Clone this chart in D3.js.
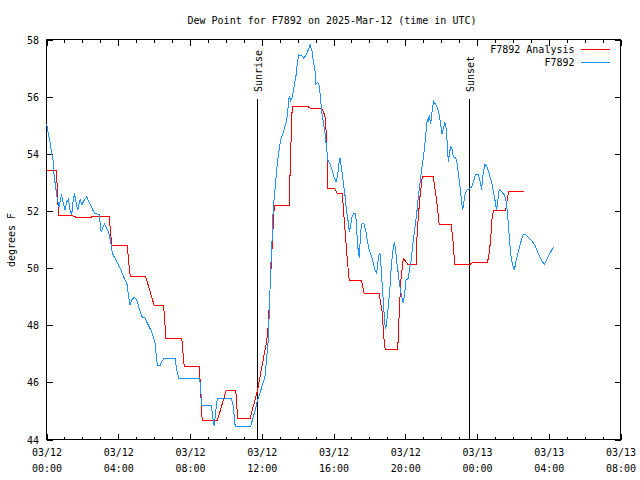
<!DOCTYPE html>
<html>
<head>
<meta charset="utf-8">
<script src="https://cdn.jsdelivr.net/npm/d3@7"></script>
<style>
  html, body { margin: 0; padding: 0; background: #fff; }
  svg { display: block; }
  text { font-family: "DejaVu Sans Mono", monospace; font-size: 10px; fill: #000; }
</style>
</head>
<body>
<script>
// ---- Data (hours since 2025-03-12 00:00 UTC, dew point in °F) ----
const chartTitle = "Dew Point for F7892 on 2025-Mar-12 (time in UTC)";
const yLabel = "degrees F";
const seriesNames = ["F7892 Analysis", "F7892"];
const seriesColors = ["#ff0000", "#1e90ff"];

const xTickHours = [0, 4, 8, 12, 16, 20, 24, 28, 32];
const xTickDates = ["03/12", "03/12", "03/12", "03/12", "03/12", "03/12", "03/13", "03/13", "03/13"];
const xTickTimes = ["00:00", "04:00", "08:00", "12:00", "16:00", "20:00", "00:00", "04:00", "08:00"];
const yTicks = [44, 46, 48, 50, 52, 54, 56, 58];

const sunEvents = [{label: "Sunrise", hour: 11.76}, {label: "Sunset", hour: 23.58}];

const analysisHours = [0.0,0.57,0.60,0.68,1.40,1.68,2.48,2.56,3.50,3.56,3.65,4.50,4.58,4.67,5.52,6.01,6.53,6.66,7.54,7.68,8.52,8.60,8.68,9.52,10.02,10.55,10.66,11.34,11.75,12.27,12.36,12.50,12.61,12.70,13.53,13.61,13.70,14.54,14.69,15.34,15.52,15.62,15.69,16.08,16.21,16.49,16.58,16.77,16.88,17.57,17.71,18.55,18.72,18.80,18.88,19.58,19.67,19.76,19.89,20.17,20.60,20.67,20.82,20.95,21.56,21.75,21.89,22.56,22.68,22.75,23.61,23.76,24.57,24.65,24.76,24.85,24.93,25.60,25.68,25.76,26.60];
const analysisValues = [53.41,53.41,52.61,51.85,51.85,51.77,51.77,51.81,51.81,51.31,50.80,50.80,50.24,49.72,49.72,48.68,48.68,47.55,47.55,46.54,46.54,45.63,44.65,44.65,45.73,45.73,44.72,44.72,45.68,47.43,47.95,49.76,51.15,52.20,52.20,54.01,55.67,55.67,55.60,55.60,55.34,54.53,52.78,52.78,52.61,52.61,51.85,50.28,49.55,49.55,49.11,49.11,48.42,47.61,47.14,47.14,48.54,49.58,50.34,50.11,50.11,51.33,52.49,53.22,53.22,52.38,51.53,51.53,50.87,50.13,50.13,50.20,50.20,50.38,50.98,51.85,52.02,52.02,52.38,52.68,52.68];

const obsHours = [0.01,0.10,0.20,0.29,0.38,0.43,0.51,0.60,0.70,0.79,0.85,0.94,1.03,1.13,1.22,1.31,1.40,1.49,1.57,1.64,1.74,1.87,1.98,2.07,2.24,2.42,2.58,2.70,2.93,2.98,3.05,3.13,3.22,3.36,3.48,3.58,3.67,3.82,3.97,4.19,4.38,4.50,4.56,4.65,4.75,4.89,5.03,5.16,5.31,5.49,5.67,5.86,6.01,6.05,6.14,6.20,6.33,6.42,6.57,7.16,7.26,7.37,8.52,8.56,8.61,8.67,9.19,9.26,9.35,9.41,9.52,10.32,10.41,10.52,11.38,11.49,11.62,11.75,11.96,12.18,12.27,12.36,12.42,12.50,12.57,12.64,12.74,12.79,12.85,12.94,13.03,13.14,13.26,13.39,13.48,13.53,13.61,13.70,13.80,13.91,13.98,14.06,14.23,14.35,14.50,14.62,14.70,14.80,14.87,14.97,15.02,15.12,15.21,15.28,15.34,15.43,15.52,15.62,15.69,15.80,15.90,16.03,16.14,16.23,16.30,16.36,16.45,16.54,16.64,16.73,16.82,16.88,16.96,17.03,17.14,17.24,17.29,17.38,17.44,17.51,17.59,17.71,17.81,17.88,17.99,18.13,18.22,18.31,18.41,18.46,18.54,18.59,18.65,18.72,18.80,18.85,18.91,18.98,19.05,19.15,19.22,19.30,19.39,19.47,19.52,19.61,19.70,19.80,19.89,19.97,20.04,20.17,20.26,20.33,20.43,20.52,20.64,20.73,20.82,20.91,21.00,21.08,21.15,21.23,21.28,21.34,21.42,21.49,21.58,21.67,21.78,21.88,21.97,22.05,22.12,22.21,22.27,22.34,22.40,22.45,22.53,22.60,22.68,22.79,22.87,22.94,23.01,23.09,23.20,23.33,23.42,23.51,23.70,23.83,23.92,24.07,24.16,24.26,24.31,24.39,24.44,24.54,24.63,24.72,24.82,24.91,25.00,25.09,25.15,25.24,25.37,25.50,25.60,25.66,25.71,25.80,25.87,25.96,26.08,26.17,26.30,26.45,26.58,26.71,26.86,27.05,27.23,27.41,27.60,27.75,27.92,28.10,28.25];
const obsValues = [55.03,54.70,54.41,54.01,53.71,53.19,52.84,52.44,52.14,52.44,52.55,52.26,52.03,52.32,52.41,52.03,51.85,52.38,52.61,52.32,52.03,52.40,52.20,52.35,52.49,52.26,52.03,51.91,51.88,51.62,51.25,51.39,51.54,51.39,51.21,50.92,50.52,50.34,50.17,49.87,49.58,49.41,49.06,48.71,48.89,48.98,48.89,48.60,48.30,48.25,48.01,47.78,47.49,47.38,46.79,46.58,46.58,46.73,46.85,46.85,46.44,46.15,46.15,46.00,45.63,45.19,45.19,44.81,44.46,44.84,45.42,45.42,45.16,44.46,44.46,44.70,44.99,45.34,45.75,46.21,46.85,47.43,48.48,49.99,50.92,52.09,52.78,53.13,53.54,54.01,54.41,54.65,54.88,55.17,55.69,56.02,55.87,55.98,56.33,56.74,57.15,57.46,57.44,57.34,57.50,57.67,57.81,57.61,57.26,56.91,56.45,56.51,56.39,55.93,55.46,55.11,54.76,54.18,53.77,53.66,53.48,53.19,53.02,53.25,53.66,53.85,53.48,53.02,52.55,51.97,51.62,51.27,51.50,51.79,51.91,51.91,51.33,50.57,50.34,51.27,51.56,51.54,51.27,50.98,50.63,50.40,50.17,49.93,49.82,50.17,50.46,50.52,50.05,49.35,48.65,48.07,47.86,48.19,48.65,49.35,50.05,50.57,50.92,50.63,50.22,49.82,49.35,49.00,48.77,49.12,49.58,49.64,50.05,50.28,50.87,51.33,51.91,52.49,52.96,53.42,53.83,54.24,54.70,55.23,55.11,55.34,55.05,55.46,55.84,55.75,55.63,55.40,55.05,54.70,54.88,55.11,54.93,54.41,53.71,53.95,54.24,54.18,53.89,53.87,53.77,53.42,53.07,52.61,52.03,52.55,52.73,52.75,52.84,53.07,53.28,53.28,53.07,52.75,53.19,53.45,53.63,53.56,53.42,53.19,53.02,52.67,52.38,52.03,52.32,52.75,52.67,52.58,52.44,52.14,51.85,51.10,50.52,50.17,49.93,50.22,50.57,50.92,51.18,51.18,51.07,50.96,50.81,50.52,50.28,50.13,50.34,50.55,50.73];

// ---- Layout ----
const W = 640, H = 480;
const plotLeft = 46.5, plotRight = 620.5, plotTop = 39.5, plotBottom = 439.5;

const svg = d3.select("body").append("svg").attr("width", W).attr("height", H);
svg.append("rect").attr("width", W).attr("height", H).attr("fill", "#fff");

const x = d3.scaleLinear().domain([0, 32]).range([plotLeft, plotRight]);
const y = d3.scaleLinear().domain([44, 58]).range([plotBottom, plotTop]);

// Title
svg.append("text").attr("x", 332).attr("y", 23.5).attr("text-anchor", "middle").text(chartTitle);

// Y label
svg.append("text").attr("transform", "translate(14.5,240) rotate(-90)")
  .attr("text-anchor", "middle").text(yLabel);

// Axes (ticks inward)
const minorHours = d3.range(0, 33, 1).filter(h => h % 4 !== 0);
function styleAxis(g) {
  g.select(".domain").remove();
  g.selectAll("line").attr("stroke", "#000").attr("shape-rendering", "crispEdges");
}
svg.append("g").attr("transform", `translate(0,${plotBottom})`)
  .call(d3.axisBottom(x).tickValues(minorHours).tickSize(-3).tickFormat(""))
  .call(styleAxis);
svg.append("g").attr("transform", `translate(0,${plotTop})`)
  .call(d3.axisTop(x).tickValues(minorHours).tickSize(-3).tickFormat(""))
  .call(styleAxis);
const gxb = svg.append("g").attr("transform", `translate(0,${plotBottom})`)
  .call(d3.axisBottom(x).tickValues(xTickHours).tickSize(-6).tickFormat(""))
  .call(styleAxis);
svg.append("g").attr("transform", `translate(0,${plotTop})`)
  .call(d3.axisTop(x).tickValues(xTickHours).tickSize(-6).tickFormat(""))
  .call(styleAxis);
gxb.selectAll(".tick text").remove();
gxb.selectAll(".tick").each(function(d, i) {
  const t = d3.select(this).append("text").attr("text-anchor", "middle").attr("fill", "#000")
    .attr("font-family", "DejaVu Sans Mono").attr("font-size", 10);
  t.append("tspan").attr("x", 0).attr("y", 16.8).text(xTickDates[i]);
  t.append("tspan").attr("x", 0).attr("y", 32.5).text(xTickTimes[i]);
});

const gyl = svg.append("g").attr("transform", `translate(${plotLeft},0)`)
  .call(d3.axisLeft(y).tickValues(yTicks).tickSize(-6).tickPadding(7).tickFormat(d3.format("d")))
  .call(styleAxis);
gyl.selectAll("text").attr("font-family", "DejaVu Sans Mono").attr("font-size", 10)
  .attr("fill", "#000").attr("dy", "0.36em").attr("x", -7.5);
svg.append("g").attr("transform", `translate(${plotRight},0)`)
  .call(d3.axisRight(y).tickValues(yTicks).tickSize(-6).tickFormat(""))
  .call(styleAxis);

// Frame
svg.append("rect").attr("x", plotLeft).attr("y", plotTop)
  .attr("width", plotRight - plotLeft).attr("height", plotBottom - plotTop)
  .attr("fill", "none").attr("stroke", "#000").attr("shape-rendering", "crispEdges");

// Sunrise / sunset markers
sunEvents.forEach(ev => {
  const xp = Math.round(x(ev.hour)) + 0.5;
  svg.append("line").attr("x1", xp).attr("x2", xp).attr("y1", 99).attr("y2", plotBottom)
    .attr("stroke", "#000").attr("shape-rendering", "crispEdges");
  svg.append("text").attr("transform", `translate(${xp + 4},92) rotate(-90)`)
    .attr("text-anchor", "start").text(ev.label);
});

// Series
const line = d3.line().x(d => x(d[0])).y(d => y(d[1]));
const analysis = analysisHours.map((h, i) => [h, analysisValues[i]]);
const obs = obsHours.map((h, i) => [h, obsValues[i]]);

svg.append("path").datum(analysis).attr("d", line).attr("fill", "none")
  .attr("stroke", seriesColors[0]).attr("stroke-width", 1).attr("shape-rendering", "crispEdges");
svg.append("path").datum(obs).attr("d", line).attr("fill", "none")
  .attr("stroke", seriesColors[1]).attr("stroke-width", 1).attr("shape-rendering", "crispEdges");

// Legend
seriesNames.forEach((name, i) => {
  const ly = [49.5, 62.5][i];
  svg.append("text").attr("x", 574.5).attr("y", ly + 3.8).attr("text-anchor", "end").text(name);
  svg.append("line").attr("x1", 581).attr("x2", 610).attr("y1", ly).attr("y2", ly)
    .attr("stroke", seriesColors[i]).attr("shape-rendering", "crispEdges");
});
</script>
</body>
</html>
